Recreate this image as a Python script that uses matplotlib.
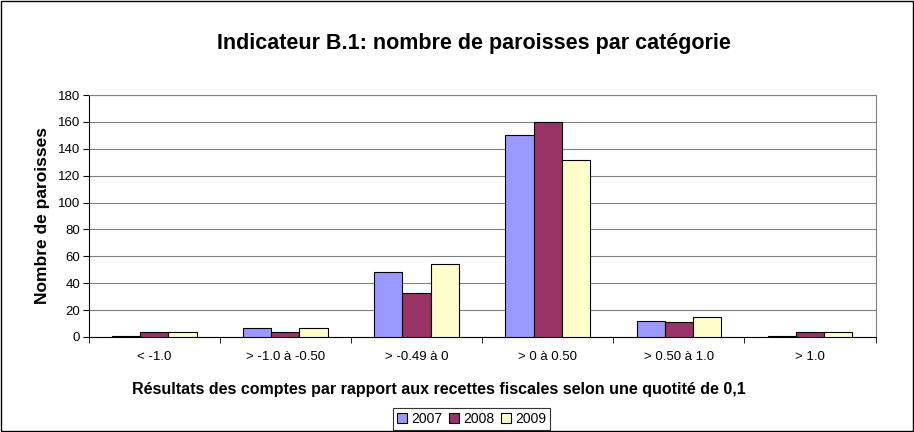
import numpy as np
import matplotlib.pyplot as plt
from matplotlib.patches import Rectangle

plt.rcParams['font.family'] = ['Liberation Sans', 'DejaVu Sans']

categories = ['< -1.0', '> -1.0 à -0.50', '> -0.49 à 0', '> 0 à 0.50', '> 0.50 à 1.0', '> 1.0']
years = ['2007', '2008', '2009']
v2007 = [1, 7, 48, 150, 12, 1]
v2008 = [4, 4, 33, 160, 11, 4]
v2009 = [4, 7, 54, 132, 15, 4]
colors = ['#9999FF', '#993366', '#FFFFCC']

fig = plt.figure(figsize=(9.14, 4.32), dpi=100)
fig.patches.append(Rectangle((0.001, 0.002), 0.998, 0.996, transform=fig.transFigure,
                             fill=False, edgecolor='black', linewidth=1))
ax = fig.add_axes([0.097, 0.22, 0.861, 0.56])

x = np.arange(len(categories))
w = 0.215
for i, (vals, c) in enumerate(zip([v2007, v2008, v2009], colors)):
    ax.bar(x + (i - 1) * w, vals, w, color=c, edgecolor='black', linewidth=0.8,
           label=years[i], zorder=3)

ax.set_xlim(-0.5, len(categories) - 0.5)
ax.set_ylim(0, 180)
ax.set_yticks(range(0, 181, 20))
ax.yaxis.grid(True, color='#808080', linewidth=0.8, zorder=0)
ax.set_xticks(x)
ax.set_xticklabels(categories, fontsize=9.5)
ax.tick_params(axis='x', length=0, pad=10)
ax.set_xticks(np.arange(-0.5, len(categories), 1), minor=True)
ax.tick_params(axis='x', which='minor', length=4, direction='out')
ax.tick_params(axis='y', labelsize=9.5, length=4, direction='out', pad=2)

for s in ['top', 'right']:
    ax.spines[s].set_color('#808080')
for s in ['left', 'bottom']:
    ax.spines[s].set_color('black')

ax.set_ylabel('Nombre de paroisses', fontsize=12.5, fontweight='bold', labelpad=6)
fig.text(0.48, 0.099,
         'Résultats des comptes par rapport aux recettes fiscales selon une quotité de 0,1',
         ha='center', va='center', fontsize=11.5, fontweight='bold')
fig.text(0.519, 0.9, 'Indicateur B.1: nombre de paroisses par catégorie',
         ha='center', va='center', fontsize=15.5, fontweight='bold')

leg = fig.legend(loc='center', bbox_to_anchor=(0.516, 0.03), ncol=3, fontsize=10,
                 frameon=True, fancybox=False, edgecolor='black', handlelength=0.7,
                 handleheight=0.7, handletextpad=0.3, columnspacing=0.5,
                 borderpad=0.3, borderaxespad=0)
leg.get_frame().set_linewidth(0.8)

fig.savefig('out.png', dpi=100)
